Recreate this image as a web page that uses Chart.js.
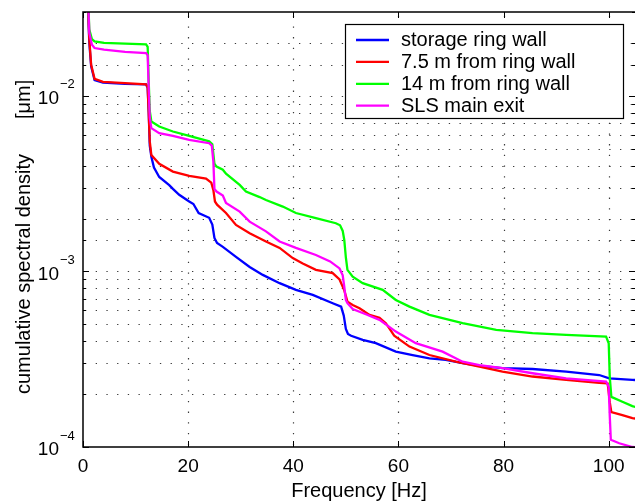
<!DOCTYPE html>
<html><head><meta charset="utf-8">
<script src="https://cdn.jsdelivr.net/npm/chart.js@4.4.0/dist/chart.umd.min.js"></script>
<style>html,body{margin:0;padding:0;background:#fff}canvas{display:block}</style>
</head><body>
<canvas id="c" width="635" height="504"></canvas>
<script>
// ---- data ----
const seriesLabels = ['storage ring wall', '7.5 m from ring wall', '14 m from ring wall', 'SLS main exit'];
const seriesColors = ['#0000ff', '#ff0000', '#00ff00', '#ff00ff'];

const blueFreq = [0.4,0.9,1.2,1.55,2.2,3.8,8,12.0,12.3,12.5,12.7,13.0,13.5,14.5,16.4,17.1,18.3,20.2,21.0,22.0,24.0,24.6,25.0,25.5,26.6,29.1,31.7,34.2,37.4,40.5,43.7,47.5,49.1,49.6,50.0,50.4,51,53.2,55.7,59.5,62.7,65.9,69.0,72.2,75.4,79.8,85.5,91.9,98.2,100.1,104.5,106];
const blueVals = [0.08,0.035,0.020,0.0147,0.0123,0.0119,0.0117,0.0116,0.0111,0.008,0.0052,4.5e-3,3.9e-3,3.45e-3,3.1e-3,2.95e-3,2.73e-3,2.5e-3,2.42e-3,2.15e-3,2.02e-3,1.85e-3,1.55e-3,1.45e-3,1.38e-3,1.21e-3,1.06e-3,9.55e-4,8.57e-4,7.85e-4,7.35e-4,6.59e-4,6.30e-4,5.6e-4,4.7e-4,4.4e-4,4.3e-4,4.07e-4,3.90e-4,3.49e-4,3.34e-4,3.20e-4,3.13e-4,3.0e-4,2.9e-4,2.81e-4,2.78e-4,2.69e-4,2.57e-4,2.46e-4,2.41e-4,2.40e-4];

const redFreq = [0.4,0.9,1.2,1.55,2.2,3.8,8,12.0,12.3,12.5,12.7,13.0,14.5,17.1,20.2,23.4,24.4,24.8,25.1,25.5,27.2,29.1,31.7,34.8,37.4,39.9,41.8,44.3,47.5,48.8,49.7,50.3,51.3,52.6,54.5,56.4,57.6,59.2,62.1,65.9,70.9,75.4,79.8,85.5,91.9,98.2,99.8,100.2,100.5,102.6,104.5,106];
const redVals = [0.08,0.035,0.021,0.015,0.0125,0.012,0.0118,0.0116,0.0112,0.008,0.0055,4.6e-3,4.1e-3,3.7e-3,3.5e-3,3.38e-3,3.2e-3,2.9e-3,2.5e-3,2.4e-3,2.15e-3,1.84e-3,1.65e-3,1.48e-3,1.36e-3,1.19e-3,1.11e-3,1.02e-3,9.77e-4,9.0e-4,7.8e-4,6.73e-4,6.44e-4,6.17e-4,5.65e-4,5.45e-4,5.07e-4,4.3e-4,3.73e-4,3.34e-4,3.06e-4,2.87e-4,2.69e-4,2.52e-4,2.41e-4,2.32e-4,2.30e-4,1.8e-4,1.58e-4,1.52e-4,1.46e-4,1.44e-4];

const greenFreq = [0.4,0.9,1.2,1.7,2.2,4,8,12.0,12.3,12.5,12.7,13.0,14.5,17.1,20.2,24.0,24.6,25.0,25.4,26.6,27.2,29.8,31.0,33.6,34.8,38.0,40.5,44.3,48.1,48.9,49.4,49.7,50.0,50.3,51.3,53.2,57.0,59.5,62.1,65.9,72.2,78.6,85.5,91.9,99.5,100.0,100.2,100.5,102.6,104.5,106];
const greenVals = [0.08,0.04,0.0238,0.021,0.0204,0.020,0.0198,0.0196,0.019,0.012,0.0082,7.14e-3,6.68e-3,6.26e-3,5.92e-3,5.5e-3,5.3e-3,4.1e-3,3.95e-3,3.79e-3,3.6e-3,3.11e-3,2.85e-3,2.65e-3,2.55e-3,2.34e-3,2.15e-3,2.01e-3,1.88e-3,1.83e-3,1.7e-3,1.51e-3,1.2e-3,1.02e-3,9.34e-4,8.57e-4,7.85e-4,6.88e-4,6.30e-4,5.65e-4,5.07e-4,4.64e-4,4.45e-4,4.35e-4,4.25e-4,3.9e-4,2.5e-4,1.93e-4,1.81e-4,1.71e-4,1.66e-4];

const magentaFreq = [0.4,0.9,1.2,1.7,2.2,4,8,12.0,12.3,12.5,12.7,13.0,14.5,17.1,20.2,24.0,24.5,24.8,25.0,25.4,26.6,27.2,29.8,31.7,34.8,37.4,40.5,44.3,47.0,48.8,49.4,49.7,50.0,50.3,51.3,53.8,56.4,59.5,63.3,68.4,72.2,75.4,79.8,85.5,91.9,99.5,100.0,100.2,100.4,102,104.5,106];
const magentaVals = [0.08,0.04,0.0228,0.0195,0.0187,0.0183,0.0178,0.0175,0.017,0.011,0.0075,6.54e-3,6.13e-3,5.92e-3,5.61e-3,5.37e-3,5.2e-3,4.2e-3,2.95e-3,2.85e-3,2.7e-3,2.45e-3,2.19e-3,1.92e-3,1.69e-3,1.48e-3,1.36e-3,1.24e-3,1.14e-3,1.04e-3,9.5e-4,8.19e-4,6.88e-4,6.59e-4,6.1e-4,5.7e-4,5.3e-4,4.54e-4,3.90e-4,3.49e-4,3.06e-4,2.93e-4,2.81e-4,2.63e-4,2.46e-4,2.36e-4,2.2e-4,1.5e-4,1.1e-4,1.05e-4,1.0e-4,0.99e-4];

const xTicks = [0, 20, 40, 60, 80, 100];
const yDecades = [1e-4, 1e-3, 1e-2];
const yExponents = ['\u22124', '\u22123', '\u22122'];
const xTitle = 'Frequency [Hz]';
const yTitle = 'cumulative spectral density';
const yUnit = '[\u03bcm]';

// ---- chart ----
const FONT = '"Liberation Sans", Arial, Helvetica, sans-serif';
const freqs = [blueFreq, redFreq, greenFreq, magentaFreq];
const vals = [blueVals, redVals, greenVals, magentaVals];

const datasets = seriesLabels.map((lab, i) => ({
  label: lab,
  data: freqs[i].map((f, j) => ({x: f, y: vals[i][j]})),
  borderColor: seriesColors[i],
  backgroundColor: seriesColors[i],
  borderWidth: 2.3,
  pointRadius: 0,
  tension: 0,
  fill: false,
  order: 4 - i
}));

const deco = {
  id: 'deco',
  beforeDatasetsDraw(chart) {
    const {ctx, chartArea: a, scales: {x, y}} = chart;
    ctx.save();
    ctx.strokeStyle = '#3a3a3a';
    ctx.lineWidth = 1.2;
    ctx.setLineDash([1.3, 9.4]);
    y.ticks.forEach(t => {
      const py = Math.round(y.getPixelForValue(t.value)) + 0.5;
      if (py < a.top + 2 || py > a.bottom - 2) return;
      ctx.beginPath(); ctx.moveTo(a.left + 2, py); ctx.lineTo(a.right, py); ctx.stroke();
    });
    xTicks.forEach(v => {
      const px = Math.round(x.getPixelForValue(v)) + 0.5;
      if (px < a.left + 2 || px > a.right - 2) return;
      ctx.beginPath(); ctx.moveTo(px, a.bottom - 2); ctx.lineTo(px, a.top); ctx.stroke();
    });
    ctx.restore();
  },
  afterDatasetsDraw(chart) {
    const {ctx, chartArea: a, scales: {x, y}} = chart;
    ctx.save();
    ctx.setLineDash([]);
    ctx.strokeStyle = '#000';
    ctx.lineWidth = 1.5;
    // axes box
    ctx.beginPath();
    ctx.moveTo(a.right + 1, a.top); ctx.lineTo(a.left, a.top); ctx.lineTo(a.left, a.bottom); ctx.lineTo(a.right + 1, a.bottom);
    ctx.stroke();
    // y ticks
    ctx.lineWidth = 1;
    y.ticks.forEach(t => {
      const py = Math.round(y.getPixelForValue(t.value)) + 0.5;
      const lg = Math.log10(t.value);
      const major = Math.abs(lg - Math.round(lg)) < 1e-6;
      const len = major ? 6 : 3;
      ctx.beginPath();
      ctx.moveTo(a.left, py); ctx.lineTo(a.left + len, py);
      ctx.moveTo(a.right, py); ctx.lineTo(a.right - len, py);
      ctx.stroke();
    });
    // x ticks
    xTicks.forEach(v => {
      const px = Math.round(x.getPixelForValue(v)) + 0.5;
      ctx.beginPath();
      ctx.moveTo(px, a.bottom); ctx.lineTo(px, a.bottom - 6);
      ctx.moveTo(px, a.top); ctx.lineTo(px, a.top + 6);
      ctx.stroke();
    });
    // x tick labels
    ctx.fillStyle = '#000';
    ctx.font = '19px ' + FONT;
    ctx.textAlign = 'center';
    ctx.textBaseline = 'middle';
    xTicks.forEach(v => {
      ctx.fillText(String(v), x.getPixelForValue(v), 467);
    });
    // y tick labels 10^n
    yDecades.forEach((v, i) => {
      const py = y.getPixelForValue(v);
      ctx.font = '19px ' + FONT;
      ctx.textAlign = 'right';
      ctx.textBaseline = 'middle';
      ctx.fillText('10', 59, py + 3);
      ctx.font = '13px ' + FONT;
      ctx.textAlign = 'left';
      ctx.fillText(yExponents[i], 60, py - 11);
    });
    // axis titles
    ctx.font = '20px ' + FONT;
    ctx.textAlign = 'center';
    ctx.textBaseline = 'middle';
    ctx.fillText(xTitle, (a.left + a.right) / 2, 491);
    ctx.save();
    ctx.translate(24, 394);
    ctx.rotate(-Math.PI / 2);
    ctx.textAlign = 'left';
    ctx.fillText(yTitle, 0, 0);
    ctx.fillText(yUnit, 275, 0);
    ctx.restore();
    // legend
    const lx = 345, ly = 24, lw = 278, lh = 94;
    ctx.fillStyle = '#fff';
    ctx.fillRect(lx, ly, lw, lh);
    ctx.strokeStyle = '#000';
    ctx.lineWidth = 1.2;
    ctx.strokeRect(lx + 0.5, ly + 0.5, lw, lh);
    chart.data.datasets.forEach((ds, i) => {
      const ry = 40 + i * 21.9;
      ctx.strokeStyle = ds.borderColor;
      ctx.lineWidth = 2.3;
      ctx.beginPath(); ctx.moveTo(356, ry); ctx.lineTo(389, ry); ctx.stroke();
      ctx.fillStyle = '#000';
      ctx.font = '20px ' + FONT;
      ctx.textAlign = 'left';
      ctx.textBaseline = 'middle';
      ctx.fillText(ds.label, 401, ry + 0.5);
    });
    ctx.restore();
  }
};

new Chart(document.getElementById('c'), {
  type: 'line',
  data: {datasets},
  options: {
    responsive: false,
    animation: false,
    devicePixelRatio: 1,
    layout: {padding: {top: 12, right: 0, left: 0, bottom: 0}},
    plugins: {legend: {display: false}, tooltip: {enabled: false}, title: {display: false}},
    scales: {
      x: {
        type: 'linear', min: 0, max: 105,
        ticks: {display: false, stepSize: 20},
        grid: {display: false},
        border: {display: false},
        afterFit(s) { s.height = 57; }
      },
      y: {
        type: 'logarithmic', min: 1e-4, max: 0.03,
        ticks: {display: false, autoSkip: false},
        grid: {display: false},
        border: {display: false},
        afterFit(s) { s.width = 83; }
      }
    }
  },
  plugins: [deco]
});
</script>
</body></html>
